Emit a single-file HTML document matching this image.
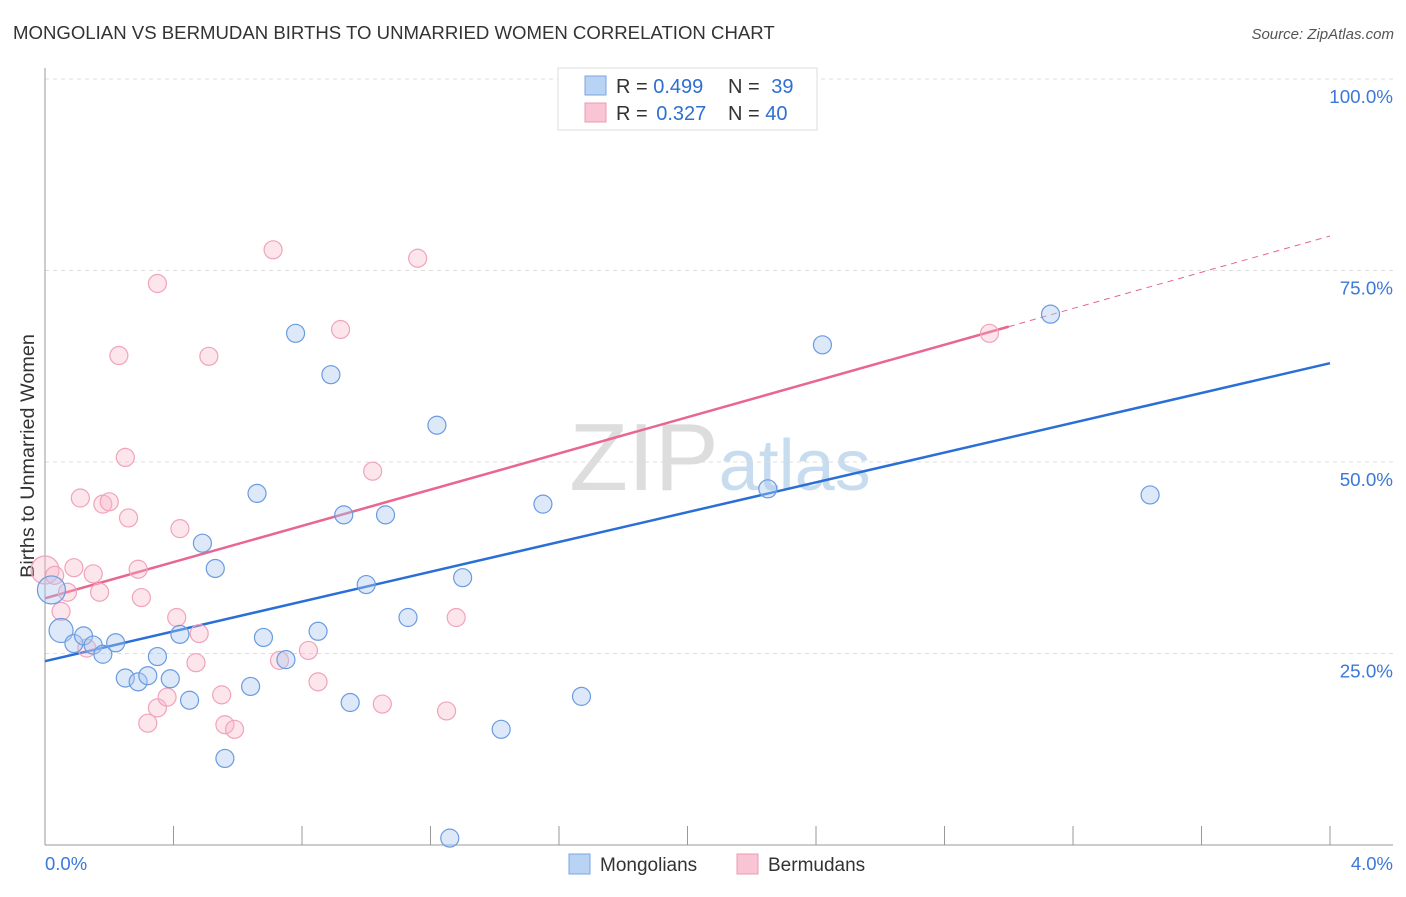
<!DOCTYPE html>
<html><head><meta charset="utf-8"><style>
body{margin:0;background:#fff;font-family:"Liberation Sans",sans-serif;}
svg text{font-family:"Liberation Sans",sans-serif;}
</style></head><body>
<svg id="chart" width="1406" height="892" xmlns="http://www.w3.org/2000/svg">
<text x="13" y="39" font-size="18.6" fill="#333">MONGOLIAN VS BERMUDAN BIRTHS TO UNMARRIED WOMEN CORRELATION CHART</text>
<text x="1394" y="39" font-size="15" fill="#555" text-anchor="end" font-style="italic">Source: ZipAtlas.com</text>
<text transform="translate(34,456) rotate(-90)" font-size="19.8" fill="#333" text-anchor="middle">Births to Unmarried Women</text>
<text x="720" y="490" font-size="96" fill="#ddd" text-anchor="middle" font-family="Liberation Serif">ZIP<tspan fill="#c8dcf0" font-family="Liberation Sans" font-size="72">atlas</tspan></text>
<g id="grid"></g><g id="axes"></g><g id="lines"></g><g id="points"></g>
<g>
<rect x="558" y="68" width="259" height="62" fill="#fff" stroke="#ddd"/>
<rect x="585" y="76" width="21" height="19" fill="#b9d3f5" stroke="#7aa6e0"/>
<rect x="585" y="103" width="21" height="19" fill="#f9c4d3" stroke="#ee9ab2"/>
<text x="616" y="93" font-size="20" fill="#333">R = <tspan fill="#2e6fd1">0.499</tspan></text>
<text x="728" y="93" font-size="20" fill="#333">N = <tspan fill="#2e6fd1" dx="6">39</tspan></text>
<text x="616" y="120" font-size="20" fill="#333">R = <tspan fill="#2e6fd1" dx="3">0.327</tspan></text>
<text x="728" y="120" font-size="20" fill="#333">N = <tspan fill="#2e6fd1">40</tspan></text>
</g>
<g>
<rect x="569" y="854" width="21" height="20" fill="#b9d3f5" stroke="#7aa6e0"/>
<text x="600" y="871" font-size="19" fill="#333">Mongolians</text>
<rect x="737" y="854" width="21" height="20" fill="#f9c4d3" stroke="#ee9ab2"/>
<text x="768" y="871" font-size="19" fill="#333">Bermudans</text>
</g>
<text x="45" y="870" font-size="18.5" fill="#3b78d8">0.0%</text>
<text x="1393" y="870" font-size="18.5" fill="#3b78d8" text-anchor="end">4.0%</text>
</svg>
<script>
const yTicks=[25,50,75,100];
const yTickLabels=["25.0%","50.0%","75.0%","100.0%"];
const blueX=[0.02,0.05,0.09,0.12,0.15,0.18,0.22,0.25,0.29,0.32,0.35,0.39,0.42,0.45,0.49,0.53,0.56,0.64,0.66,0.68,0.75,0.78,0.85,0.89,0.93,0.95,1.00,1.06,1.13,1.22,1.26,1.30,1.42,1.55,1.67,2.25,2.42,3.13,3.44];
const blueY=[33.3,28.0,26.3,27.3,26.1,24.9,26.4,21.8,21.3,22.1,24.6,21.7,27.5,18.9,39.4,36.1,11.3,20.7,45.9,27.1,24.2,66.8,27.9,61.4,43.1,18.6,34.0,43.1,29.7,54.8,0.9,34.9,15.1,44.5,19.4,46.5,65.3,69.3,45.7];
const pinkX=[0.0,0.03,0.05,0.07,0.09,0.11,0.15,0.17,0.13,0.18,0.20,0.23,0.25,0.26,0.29,0.30,0.32,0.35,0.35,0.38,0.41,0.42,0.47,0.48,0.51,0.55,0.56,0.59,0.71,0.73,0.82,0.85,0.92,1.02,1.05,1.16,1.25,1.28,1.73,2.94];
const pinkY=[35.9,35.2,30.5,33.0,36.2,45.3,35.4,33.0,25.7,44.5,44.8,63.9,50.6,42.7,36.0,32.3,15.9,17.9,73.3,19.3,29.7,41.3,23.8,27.6,63.8,19.6,15.7,15.1,77.7,24.1,25.4,21.3,67.3,48.8,18.4,76.6,17.5,29.7,94.9,66.8];
const blueSize=[14,12].concat(Array(37).fill(9));
const pinkSize=[14].concat(Array(39).fill(9));
const blueLine=[24.0,62.9];
const pinkLine=[32.2,79.5];
const pinkSolidEnd=3.0;
const X0=45,X1=1330,Y0=845,YPER=7.66;
const sx=v=>X0+(X1-X0)*v/4;
const sy=v=>Y0-v*YPER;
const NS="http://www.w3.org/2000/svg";
function mk(t,a,p){const e=document.createElementNS(NS,t);for(const k in a)e.setAttribute(k,a[k]);p.appendChild(e);return e;}
const grid=document.getElementById('grid'),axes=document.getElementById('axes'),lines=document.getElementById('lines'),pts=document.getElementById('points');
yTicks.forEach((t,i)=>{
 const l=mk('line',{x1:X0,x2:1393,y1:sy(t),y2:sy(t),stroke:'#ddd','stroke-dasharray':'4,4'},grid);
 
 
 const tx=mk('text',{x:1393,y:sy(t)+24,'font-size':18.8,fill:'#3b78d8','text-anchor':'end'},grid);
 tx.textContent=yTickLabels[i];
 
 
});
const ya=mk('line',{x1:X0,x2:X0,y1:68,y2:Y0,stroke:'#999'},axes);


const xa=mk('line',{x1:X0,x2:1393,y1:Y0,y2:Y0,stroke:'#999'},axes);


for(let i=0;i<=10;i++){const x=sx(i*0.4);const t=mk('line',{x1:x,x2:x,y1:826,y2:Y0,stroke:'#999'},axes);
 
 }
const bl=mk('line',{x1:sx(0),y1:sy(blueLine[0]),x2:sx(4),y2:sy(blueLine[1]),stroke:'#2a6fd6','stroke-width':2.5},lines);


const pm=v=>pinkLine[0]+(pinkLine[1]-pinkLine[0])*v/4;
const pl=mk('line',{x1:sx(0),y1:sy(pinkLine[0]),x2:sx(pinkSolidEnd),y2:sy(pm(pinkSolidEnd)),stroke:'#e8668f','stroke-width':2.5},lines);


const pd=mk('line',{x1:sx(pinkSolidEnd),y1:sy(pm(pinkSolidEnd)),x2:sx(4),y2:sy(pinkLine[1]),stroke:'#e8668f','stroke-width':1,'stroke-dasharray':'6,5'},lines);


pinkX.forEach((x,i)=>{const c=mk('circle',{cx:sx(x),cy:sy(pinkY[i]),r:pinkSize[i],fill:'rgba(249,180,200,0.35)',stroke:'#f0a3bb','stroke-width':1.2},pts);
 
 });
blueX.forEach((x,i)=>{const c=mk('circle',{cx:sx(x),cy:sy(blueY[i]),r:blueSize[i],fill:'rgba(170,200,240,0.4)',stroke:'#6a9be0','stroke-width':1.2},pts);
 
 });
</script>
</body></html>
